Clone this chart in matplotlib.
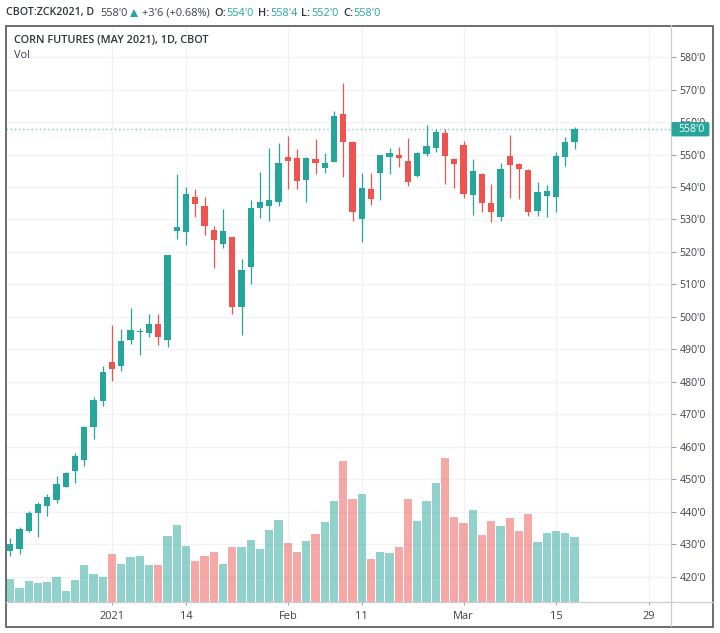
import matplotlib
matplotlib.use("Agg")
import matplotlib.pyplot as plt
from matplotlib.patches import FancyBboxPatch, Rectangle, Polygon

plt.rcParams['font.family'] = ['Open Sans', 'DejaVu Sans']

opens  = [428.0,428.7,434.2,439.7,441.8,443.7,447.8,452.5,456.1,466.0,474.0,486.3,485.0,492.9,495.3,495.0,497.7,492.8,
          526.6,526.0,536.9,534.3,526.7,522.6,524.7,503.1,515.5,533.5,534.1,535.5,549.2,548.9,542.2,548.6,545.9,547.7,
          562.4,553.7,530.3,539.4,544.4,549.3,550.0,547.9,543.3,550.2,552.0,556.5,548.7,552.8,537.5,544.1,535.0,530.8,
          549.4,547.1,545.1,532.7,537.3,536.8,549.3,554.0]
closes = [430.05,434.9,439.6,442.4,444.7,448.5,451.9,457.3,466.1,474.5,483.2,484.1,492.5,496.0,495.6,497.7,493.9,519.0,
          527.7,537.7,534.7,528.1,523.7,526.4,503.1,514.4,533.6,535.3,536.1,547.3,548.1,542.0,548.9,547.3,547.3,561.7,
          554.0,532.4,539.7,536.2,549.7,550.6,548.8,541.4,550.4,552.5,556.9,549.6,547.2,538.0,544.8,535.2,532.4,545.4,
          546.9,545.5,532.4,538.6,538.9,549.4,554.0,558.0]
highs  = [431.9,435.5,440.4,443.0,445.5,451.1,452.2,458.0,466.6,475.3,484.9,497.4,496.3,502.7,496.5,500.9,500.9,519.0,
          544.1,539.9,539.4,536.9,528.0,533.1,524.7,517.8,535.9,544.6,552.0,553.5,555.8,551.7,549.1,554.8,550.4,563.4,
          571.9,554.1,544.2,544.2,550.0,552.0,552.3,555.0,550.8,559.1,557.8,557.8,548.9,554.2,548.5,544.2,541.0,547.3,
          556.1,547.3,545.6,541.5,540.6,550.7,555.5,558.4]
lows   = [426.6,427.1,433.9,432.4,438.9,442.7,447.6,449.0,454.2,462.6,472.6,480.3,483.3,491.8,488.2,493.9,491.5,490.7,
          524.1,522.0,530.8,525.2,515.0,521.2,501.0,494.5,510.3,530.5,529.6,534.3,539.5,539.5,535.5,544.1,544.4,547.7,
          543.0,529.6,523.2,534.6,536.0,544.1,546.3,540.4,543.2,549.6,550.7,540.8,539.8,536.7,531.3,532.4,529.1,529.6,
          536.7,536.2,531.1,531.1,530.8,532.4,546.6,551.8]
volumes = [69,41,62,57,60,76,33,67,110,84,76,145,115,134,137,110,110,198,232,169,123,139,150,115,165,165,187,158,217,246,
           177,150,184,203,241,304,424,310,325,129,150,147,166,310,243,302,358,432,256,238,275,201,243,229,251,214,264,179,
           206,214,206,196]
tick_positions = [11,19,30,38,49,59,69]
tick_labels = ["2021","14","Feb","11","Mar","15","29"]
price_ticks = list(range(420,590,10))
last_price = 558.0

GREEN = '#26a69a'; RED = '#ef5350'; TXT = '#3c404b'
W, H = 720, 633
fig = plt.figure(figsize=(W/100, H/100), dpi=100, facecolor='white')
L, R, T, B = 6, 671, 25, 602
ax = fig.add_axes([L/W, 1-B/H, (R-L)/W, (B-T)/H])
ax.set_xlim(-0.46, 71.43)
ax.set_ylim(412.3, 589.85)
for s in ax.spines.values():
    s.set_visible(False)
ax.set_axisbelow(True)
ax.grid(True, color='#f0f2f6', lw=1.0)
x = list(range(len(opens)))
cols = [GREEN if c >= o else RED for o, c in zip(opens, closes)]
ax.vlines(x, lows, highs, colors=cols, lw=0.9, zorder=3)
ax.bar(x, [abs(c-o) for o, c in zip(opens, closes)], bottom=[min(o, c) for o, c in zip(opens, closes)],
       width=0.66, color=cols, edgecolor='none', zorder=4)
ax.axhline(last_price, color=GREEN, lw=1.0, ls=(0, (1, 2)), alpha=0.6, zorder=2)

vol = ax.twinx()
vol.set_ylim(0, 1731)
vol.bar(x, volumes, width=0.88, color=[c + '80' for c in cols], edgecolor='none', zorder=3)
vol.set_yticks([])
for s in vol.spines.values():
    s.set_visible(False)

ax.yaxis.tick_right()
ax.set_yticks(price_ticks)
ax.set_yticklabels([f"{p}'0" for p in price_ticks], fontsize=7.6, color=TXT)
ax.tick_params(axis='y', length=3.6, width=0.8, color='#a0a4ad', pad=2.5)
ax.set_xticks(tick_positions)
ax.set_xticklabels(tick_labels, fontsize=7.9, color=TXT)
ax.tick_params(axis='x', length=2.2, width=0.8, color='#a0a4ad', pad=4.5)

def px(xp, yp):
    return xp/W, 1-yp/H
# frame and axis lines
tf = fig.transFigure
fig.add_artist(Rectangle(px(5.5, 626.5), 707.5/W, 601/H, transform=tf, fill=False, ec='#5f6166', lw=1.3))
fig.add_artist(plt.Line2D([6/W, 713/W], [1-602/H]*2, color='#c9ccd3', lw=0.9))
fig.add_artist(plt.Line2D([671/W]*2, [1-25/H, 1-626/H], color='#c9ccd3', lw=0.9))

# last-price label
bx, by = px(672, 136)
fig.add_artist(FancyBboxPatch((bx, by), 37/W, 13.5/H, transform=tf, fc=GREEN, ec=GREEN, lw=0.6,
                              boxstyle='round,pad=0,rounding_size=0.002', zorder=5))
fig.text(*px(691, 129), "558'0", color='white', fontsize=7.6, ha='center', va='center', zorder=6)

# titles
fig.text(*px(13.5, 40.5), "CORN FUTURES (MAY 2021), 1D, CBOT", fontsize=7.85, fontweight='semibold', color='#2f333d', va='center')
fig.text(*px(13.5, 55.5), "Vol", fontsize=7.9, color=TXT, va='center')

# header
hdr = [(6, "CBOT:ZCK2021, D", '#2f333d', 'semibold', 7.65), (100, "558'0", TXT, 'normal', 7.9),
       (142, "+3'6 (+0.68%)", TXT, 'normal', 7.9), (214, "O:", '#2f333d', 'semibold', 7.9), (226, "554'0", GREEN, 'normal', 7.9),
       (258, "H:", '#2f333d', 'semibold', 7.9), (270, "558'4", GREEN, 'normal', 7.9), (301, "L:", '#2f333d', 'semibold', 7.9),
       (311, "552'0", GREEN, 'normal', 7.9), (343, "C:", '#2f333d', 'semibold', 7.9), (353, "558'0", GREEN, 'normal', 7.9)]
for hx, s, c, w, fs in hdr:
    fig.text(*px(hx, 13), s, fontsize=fs, color=c, fontweight=w, va='center')
fig.add_artist(Polygon([px(130, 17), px(138, 17), px(134, 9)], closed=True, transform=tf, fc=GREEN, ec='none'))

fig.savefig('out.png', dpi=100)
